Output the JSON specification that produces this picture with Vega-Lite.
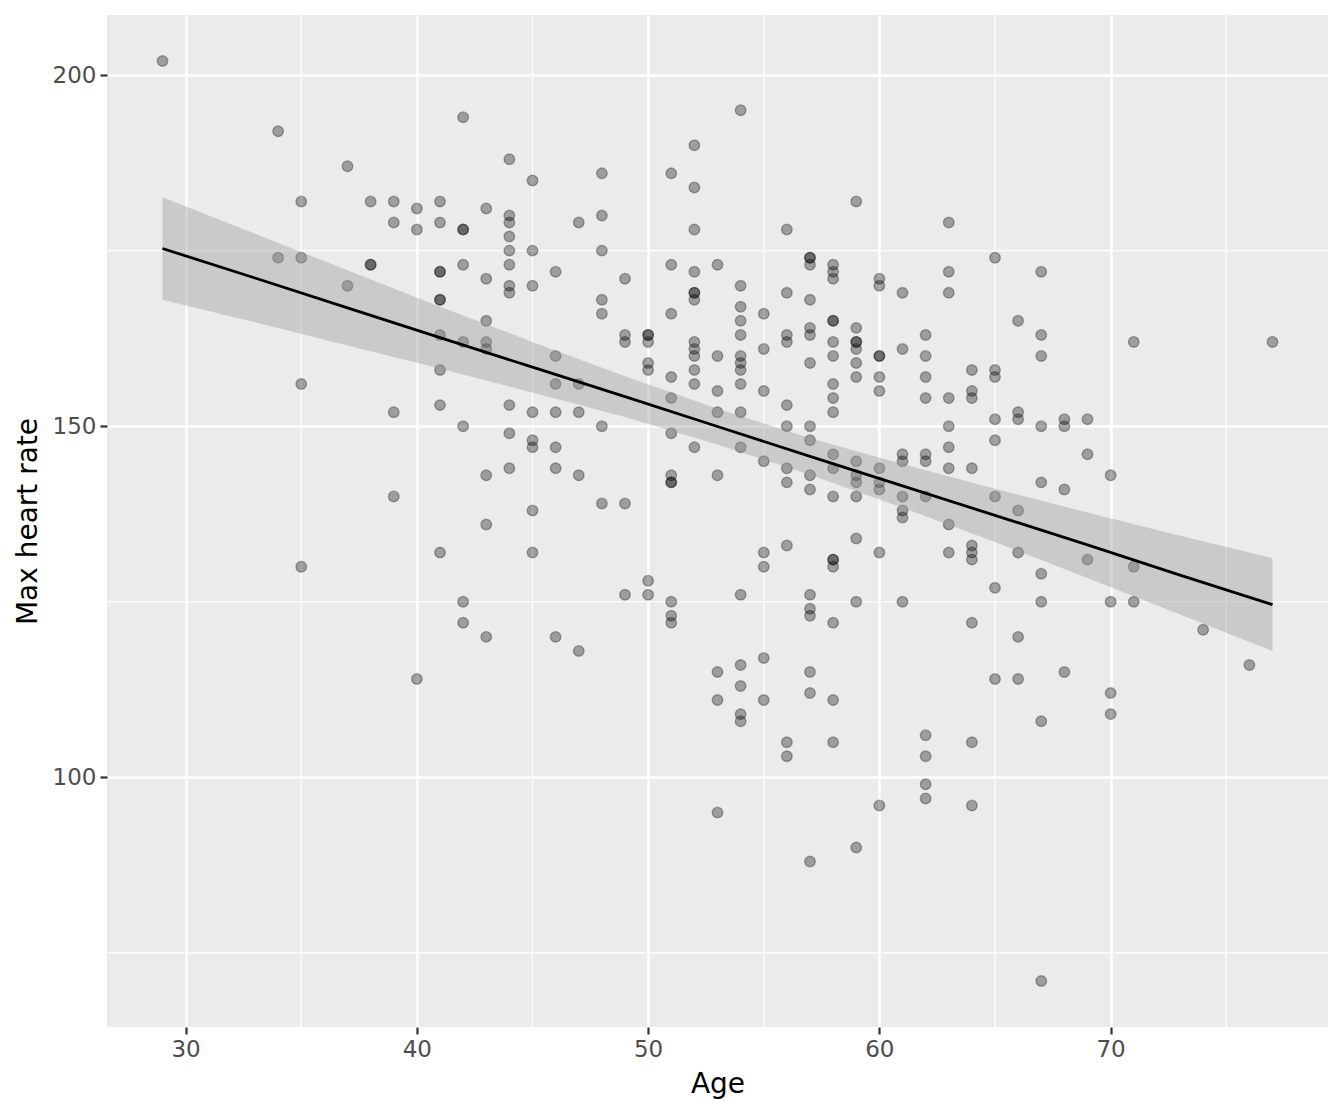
{
  "$schema": "https://vega.github.io/schema/vega-lite/v6.json",
  "width": 1221,
  "height": 1012,
  "autosize": {"type": "none"},
  "padding": {"left": 107, "top": 15, "right": 16, "bottom": 86},
  "background": "white",
  "config": {
    "view": {"fill": "#EBEBEB", "stroke": null},
    "font": "DejaVu Sans",
    "axis": {
      "domain": false,
      "grid": true,
      "gridColor": "white",
      "gridWidth": 2.4,
      "tickColor": "#333333",
      "tickWidth": 2.2,
      "tickSize": 7,
      "labelColor": "#4D4D4D",
      "labelFontSize": 23,
      "labelFont": "DejaVu Sans",
      "titleFont": "DejaVu Sans",
      "titleFontSize": 28,
      "titleFontWeight": "normal",
      "titleColor": "black"
    }
  },
  "datasets": {
    "pts": [
      {"age":29,"hr":202},
      {"age":34,"hr":192},{"age":34,"hr":174},
      {"age":35,"hr":182},{"age":35,"hr":174},{"age":35,"hr":156},{"age":35,"hr":130},
      {"age":37,"hr":187},{"age":37,"hr":170},
      {"age":38,"hr":182},{"age":38,"hr":173},{"age":38,"hr":173},
      {"age":39,"hr":182},{"age":39,"hr":179},{"age":39,"hr":152},{"age":39,"hr":140},
      {"age":40,"hr":181},{"age":40,"hr":178},{"age":40,"hr":114},
      {"age":41,"hr":182},{"age":41,"hr":179},{"age":41,"hr":172},{"age":41,"hr":172},{"age":41,"hr":168},{"age":41,"hr":168},{"age":41,"hr":163},{"age":41,"hr":158},{"age":41,"hr":153},{"age":41,"hr":132},
      {"age":42,"hr":194},{"age":42,"hr":178},{"age":42,"hr":178},{"age":42,"hr":173},{"age":42,"hr":162},{"age":42,"hr":150},{"age":42,"hr":125},{"age":42,"hr":122},
      {"age":43,"hr":181},{"age":43,"hr":171},{"age":43,"hr":165},{"age":43,"hr":162},{"age":43,"hr":161},{"age":43,"hr":143},{"age":43,"hr":136},{"age":43,"hr":120},
      {"age":44,"hr":188},{"age":44,"hr":180},{"age":44,"hr":179},{"age":44,"hr":177},{"age":44,"hr":175},{"age":44,"hr":173},{"age":44,"hr":170},{"age":44,"hr":169},{"age":44,"hr":153},{"age":44,"hr":149},{"age":44,"hr":144},
      {"age":45,"hr":185},{"age":45,"hr":175},{"age":45,"hr":170},{"age":45,"hr":152},{"age":45,"hr":148},{"age":45,"hr":147},{"age":45,"hr":138},{"age":45,"hr":132},
      {"age":46,"hr":172},{"age":46,"hr":160},{"age":46,"hr":156},{"age":46,"hr":152},{"age":46,"hr":147},{"age":46,"hr":144},{"age":46,"hr":120},
      {"age":47,"hr":179},{"age":47,"hr":156},{"age":47,"hr":152},{"age":47,"hr":143},{"age":47,"hr":118},
      {"age":48,"hr":186},{"age":48,"hr":180},{"age":48,"hr":175},{"age":48,"hr":168},{"age":48,"hr":166},{"age":48,"hr":150},{"age":48,"hr":139},
      {"age":49,"hr":171},{"age":49,"hr":163},{"age":49,"hr":162},{"age":49,"hr":139},{"age":49,"hr":126},
      {"age":50,"hr":163},{"age":50,"hr":163},{"age":50,"hr":162},{"age":50,"hr":159},{"age":50,"hr":158},{"age":50,"hr":128},{"age":50,"hr":126},
      {"age":51,"hr":186},{"age":51,"hr":173},{"age":51,"hr":166},{"age":51,"hr":157},{"age":51,"hr":154},{"age":51,"hr":149},{"age":51,"hr":143},{"age":51,"hr":142},{"age":51,"hr":142},{"age":51,"hr":125},{"age":51,"hr":123},{"age":51,"hr":122},
      {"age":52,"hr":190},{"age":52,"hr":184},{"age":52,"hr":178},{"age":52,"hr":172},{"age":52,"hr":169},{"age":52,"hr":169},{"age":52,"hr":168},{"age":52,"hr":162},{"age":52,"hr":161},{"age":52,"hr":160},{"age":52,"hr":158},{"age":52,"hr":156},{"age":52,"hr":147},
      {"age":53,"hr":173},{"age":53,"hr":160},{"age":53,"hr":155},{"age":53,"hr":152},{"age":53,"hr":143},{"age":53,"hr":115},{"age":53,"hr":111},{"age":53,"hr":95},
      {"age":54,"hr":195},{"age":54,"hr":170},{"age":54,"hr":167},{"age":54,"hr":165},{"age":54,"hr":163},{"age":54,"hr":160},{"age":54,"hr":159},{"age":54,"hr":158},{"age":54,"hr":156},{"age":54,"hr":152},{"age":54,"hr":147},{"age":54,"hr":126},{"age":54,"hr":116},{"age":54,"hr":113},{"age":54,"hr":109},{"age":54,"hr":108},
      {"age":55,"hr":166},{"age":55,"hr":161},{"age":55,"hr":155},{"age":55,"hr":145},{"age":55,"hr":132},{"age":55,"hr":130},{"age":55,"hr":117},{"age":55,"hr":111},
      {"age":56,"hr":178},{"age":56,"hr":169},{"age":56,"hr":163},{"age":56,"hr":162},{"age":56,"hr":153},{"age":56,"hr":150},{"age":56,"hr":144},{"age":56,"hr":142},{"age":56,"hr":133},{"age":56,"hr":105},{"age":56,"hr":103},
      {"age":57,"hr":174},{"age":57,"hr":174},{"age":57,"hr":173},{"age":57,"hr":168},{"age":57,"hr":164},{"age":57,"hr":163},{"age":57,"hr":159},{"age":57,"hr":150},{"age":57,"hr":148},{"age":57,"hr":143},{"age":57,"hr":141},{"age":57,"hr":126},{"age":57,"hr":124},{"age":57,"hr":123},{"age":57,"hr":115},{"age":57,"hr":112},{"age":57,"hr":88},
      {"age":58,"hr":173},{"age":58,"hr":172},{"age":58,"hr":171},{"age":58,"hr":165},{"age":58,"hr":165},{"age":58,"hr":162},{"age":58,"hr":160},{"age":58,"hr":156},{"age":58,"hr":154},{"age":58,"hr":152},{"age":58,"hr":146},{"age":58,"hr":144},{"age":58,"hr":140},{"age":58,"hr":131},{"age":58,"hr":131},{"age":58,"hr":130},{"age":58,"hr":122},{"age":58,"hr":111},{"age":58,"hr":105},
      {"age":59,"hr":182},{"age":59,"hr":164},{"age":59,"hr":162},{"age":59,"hr":162},{"age":59,"hr":161},{"age":59,"hr":159},{"age":59,"hr":157},{"age":59,"hr":145},{"age":59,"hr":143},{"age":59,"hr":142},{"age":59,"hr":140},{"age":59,"hr":134},{"age":59,"hr":125},{"age":59,"hr":90},
      {"age":60,"hr":171},{"age":60,"hr":170},{"age":60,"hr":160},{"age":60,"hr":160},{"age":60,"hr":157},{"age":60,"hr":155},{"age":60,"hr":144},{"age":60,"hr":142},{"age":60,"hr":141},{"age":60,"hr":132},{"age":60,"hr":96},
      {"age":61,"hr":169},{"age":61,"hr":161},{"age":61,"hr":146},{"age":61,"hr":145},{"age":61,"hr":140},{"age":61,"hr":138},{"age":61,"hr":137},{"age":61,"hr":125},
      {"age":62,"hr":163},{"age":62,"hr":160},{"age":62,"hr":157},{"age":62,"hr":154},{"age":62,"hr":146},{"age":62,"hr":145},{"age":62,"hr":140},{"age":62,"hr":106},{"age":62,"hr":103},{"age":62,"hr":99},{"age":62,"hr":97},
      {"age":63,"hr":179},{"age":63,"hr":172},{"age":63,"hr":169},{"age":63,"hr":154},{"age":63,"hr":150},{"age":63,"hr":147},{"age":63,"hr":144},{"age":63,"hr":136},{"age":63,"hr":132},
      {"age":64,"hr":158},{"age":64,"hr":155},{"age":64,"hr":154},{"age":64,"hr":144},{"age":64,"hr":133},{"age":64,"hr":132},{"age":64,"hr":131},{"age":64,"hr":122},{"age":64,"hr":105},{"age":64,"hr":96},
      {"age":65,"hr":174},{"age":65,"hr":158},{"age":65,"hr":157},{"age":65,"hr":151},{"age":65,"hr":148},{"age":65,"hr":140},{"age":65,"hr":127},{"age":65,"hr":114},
      {"age":66,"hr":165},{"age":66,"hr":152},{"age":66,"hr":151},{"age":66,"hr":138},{"age":66,"hr":132},{"age":66,"hr":120},{"age":66,"hr":114},
      {"age":67,"hr":172},{"age":67,"hr":163},{"age":67,"hr":160},{"age":67,"hr":150},{"age":67,"hr":142},{"age":67,"hr":129},{"age":67,"hr":125},{"age":67,"hr":108},{"age":67,"hr":71},
      {"age":68,"hr":151},{"age":68,"hr":150},{"age":68,"hr":141},{"age":68,"hr":115},
      {"age":69,"hr":151},{"age":69,"hr":146},{"age":69,"hr":131},
      {"age":70,"hr":143},{"age":70,"hr":125},{"age":70,"hr":112},{"age":70,"hr":109},
      {"age":71,"hr":162},{"age":71,"hr":130},{"age":71,"hr":125},
      {"age":74,"hr":121},
      {"age":76,"hr":116},
      {"age":77,"hr":162}
    ],
    "band": [
      {"age":29,"fit":175.3,"lo":168.0,"hi":182.6},
      {"age":33,"fit":171.1,"lo":164.8,"hi":177.4},
      {"age":37,"fit":166.85,"lo":161.5,"hi":172.2},
      {"age":41,"fit":162.6,"lo":158.2,"hi":167.0},
      {"age":45,"fit":158.4,"lo":154.8,"hi":162.0},
      {"age":49,"fit":154.2,"lo":151.3,"hi":157.1},
      {"age":53,"fit":149.96,"lo":147.4,"hi":152.5},
      {"age":57,"fit":145.7,"lo":143.1,"hi":148.3},
      {"age":61,"fit":141.5,"lo":138.4,"hi":144.6},
      {"age":65,"fit":137.3,"lo":133.5,"hi":141.1},
      {"age":69,"fit":133.1,"lo":128.4,"hi":137.7},
      {"age":73,"fit":128.8,"lo":123.2,"hi":134.4},
      {"age":77,"fit":124.6,"lo":118.0,"hi":131.2}
    ],
    "minorx": [{"v":35},{"v":45},{"v":55},{"v":65},{"v":75}],
    "minory": [{"v":75},{"v":125},{"v":175}]
  },
  "layer": [
    {
      "data": {"name": "minorx"},
      "mark": {"type": "rule", "color": "white", "strokeWidth": 1.2},
      "encoding": {
        "x": {"field": "v", "type": "quantitative", "scale": {"domain": [26.6, 79.4], "nice": false, "zero": false}}
      }
    },
    {
      "data": {"name": "minory"},
      "mark": {"type": "rule", "color": "white", "strokeWidth": 1.2},
      "encoding": {
        "y": {"field": "v", "type": "quantitative", "scale": {"domain": [64.45, 208.55], "nice": false, "zero": false}}
      }
    },
    {
      "data": {"name": "pts"},
      "mark": {"type": "point", "shape": "circle", "filled": true, "size": 112, "fill": "black", "fillOpacity": 0.33, "stroke": "black", "strokeOpacity": 0.3, "strokeWidth": 1.4},
      "encoding": {
        "x": {"field": "age", "type": "quantitative", "title": "Age",
              "axis": {"values": [30, 40, 50, 60, 70], "labelPadding": 4, "titlePadding": 9}},
        "y": {"field": "hr", "type": "quantitative", "title": "Max heart rate",
              "axis": {"values": [100, 150, 200], "labelPadding": 4, "titlePadding": 10}}
      }
    },
    {
      "data": {"name": "band"},
      "mark": {"type": "area", "color": "#999999", "opacity": 0.4},
      "encoding": {
        "x": {"field": "age", "type": "quantitative"},
        "y": {"field": "lo", "type": "quantitative"},
        "y2": {"field": "hi"}
      }
    },
    {
      "data": {"name": "band"},
      "mark": {"type": "line", "color": "black", "strokeWidth": 2.8},
      "encoding": {
        "x": {"field": "age", "type": "quantitative"},
        "y": {"field": "fit", "type": "quantitative"}
      }
    }
  ]
}
